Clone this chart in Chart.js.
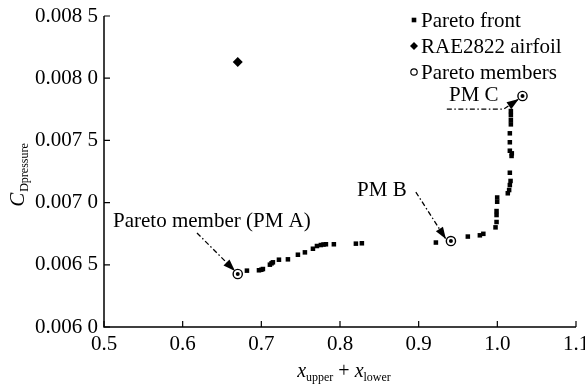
<!DOCTYPE html>
<html>
<head>
<meta charset="utf-8">
<script src="https://cdn.jsdelivr.net/npm/chart.js@4/dist/chart.umd.min.js"></script>
<style>
  html, body { margin: 0; padding: 0; background: #fff; }
  canvas { display: block; }
</style>
</head>
<body>
<canvas id="c" width="585" height="391"></canvas>
<script>
// Pareto front of the optimisation (sum of crest positions vs pressure drag)
const frontX = [
  0.6817, 0.6970, 0.7000, 0.7020, 0.7109, 0.7130, 0.7147, 0.7224, 0.7338, 0.7465,
  0.7554, 0.7656, 0.7707, 0.7757, 0.7790, 0.7821, 0.7922, 0.8202, 0.8278,
  0.9219, 0.9625, 0.9778, 0.9822, 0.9977, 0.9990, 0.9990, 0.9990, 0.9998, 0.9998,
  1.0133, 1.0150, 1.0159, 1.0168, 1.0159, 1.0181, 1.0184, 1.0159, 1.0159, 1.0159,
  1.0172, 1.0172, 1.0172, 1.0172
];
const frontY = [
  0.006453, 0.006456, 0.006460, 0.006466, 0.006501, 0.006512, 0.006520, 0.006541, 0.006544, 0.006581,
  0.006600, 0.006629, 0.006651, 0.006659, 0.006663, 0.006665, 0.006665, 0.006670, 0.006673,
  0.006679, 0.006727, 0.006737, 0.006749, 0.006801, 0.006844, 0.006900, 0.006932, 0.007007, 0.007041,
  0.007075, 0.007101, 0.007141, 0.007174, 0.007240, 0.007375, 0.007396, 0.007417, 0.007485, 0.007557,
  0.007629, 0.007664, 0.007704, 0.007736
];

// Baseline airfoil
const airfoilX = [0.670];
const airfoilY = [0.00813];

// Selected Pareto members A, B, C
const memberX = [0.670, 0.941, 1.032];
const memberY = [0.006426, 0.006691, 0.007857];
const memberNames = ['Pareto member (PM A)', 'PM B', 'PM C'];

// Axis ticks
const xTickValues = [0.5, 0.6, 0.7, 0.8, 0.9, 1.0, 1.1];
const yTickValues = [0.0060, 0.0065, 0.0070, 0.0075, 0.0080, 0.0085];

const seriesNames = ['Pareto front', 'RAE2822 airfoil', 'Pareto members'];

const toPoints = (xs, ys) => xs.map((v, i) => ({ x: v, y: ys[i] }));

// Callout layout (in axis units): label anchor, leader polyline ending in an arrowhead
const callouts = [
  { text: memberNames[0], at: [0.5115, 0.006852], align: 'left',
    path: [[0.6182, 0.006756], [0.6665, 0.006450]] },
  { text: memberNames[1], at: [0.8532, 0.007101], align: 'center',
    path: [[0.8964, 0.007085], [0.9346, 0.006707]] },
  { text: memberNames[2], at: [0.9701, 0.007865], align: 'center',
    path: [[0.9358, 0.007752], [1.0083, 0.007752], [1.0273, 0.007833]] }
];

const SERIF = '"Liberation Serif", "Times New Roman", serif';
const FS = 21;

function drawMarker(ctx, kind, x, y) {
  ctx.save();
  ctx.fillStyle = '#000';
  ctx.strokeStyle = '#000';
  if (kind === 0) {
    ctx.fillRect(x - 2.3, y - 2.3, 4.6, 4.6);
  } else if (kind === 1) {
    ctx.beginPath();
    ctx.moveTo(x - 4, y); ctx.lineTo(x, y - 4); ctx.lineTo(x + 4, y); ctx.lineTo(x, y + 4);
    ctx.closePath(); ctx.fill();
  } else {
    ctx.lineWidth = 1.2;
    ctx.beginPath(); ctx.arc(x, y, 3.2, 0, Math.PI * 2); ctx.stroke();
  }
  ctx.restore();
}

const overlay = {
  id: 'overlay',
  afterDraw(chart) {
    const { ctx, chartArea: a, scales: { x, y } } = chart;
    ctx.save();
    ctx.strokeStyle = '#000';
    ctx.fillStyle = '#000';

    // axes lines
    ctx.lineWidth = 1.5;
    ctx.beginPath();
    ctx.moveTo(a.left, a.top);
    ctx.lineTo(a.left, a.bottom);
    ctx.lineTo(a.right, a.bottom);
    ctx.stroke();

    // inward tick marks
    ctx.lineWidth = 1.2;
    ctx.beginPath();
    x.ticks.forEach(t => {
      const px = x.getPixelForValue(t.value);
      ctx.moveTo(px, a.bottom); ctx.lineTo(px, a.bottom - 6);
    });
    y.ticks.forEach(t => {
      const py = y.getPixelForValue(t.value);
      ctx.moveTo(a.left, py); ctx.lineTo(a.left + 6, py);
    });
    ctx.stroke();

    // y axis title: C_Dpressure
    ctx.save();
    ctx.translate(17, (a.top + a.bottom) / 2 + 4);
    ctx.rotate(-Math.PI / 2);
    ctx.textBaseline = 'alphabetic';
    ctx.font = 'italic 21px ' + SERIF;
    const wC = ctx.measureText('C').width;
    ctx.font = '12px ' + SERIF;
    const wSub = ctx.measureText('Dpressure').width;
    let sx = -(wC + wSub) / 2;
    ctx.font = 'italic 21px ' + SERIF;
    ctx.fillText('C', sx, 7);
    ctx.font = '12px ' + SERIF;
    ctx.fillText('Dpressure', sx + wC + 1, 11);
    ctx.restore();

    // x axis title: x_upper + x_lower
    ctx.save();
    ctx.textBaseline = 'alphabetic';
    const parts = [
      ['x', 'italic 20px ', 0], ['upper', '12px ', 4], [' + ', '20px ', 0],
      ['x', 'italic 20px ', 0], ['lower', '12px ', 4]
    ];
    let total = 0;
    parts.forEach(p => { ctx.font = p[1] + SERIF; p.push(ctx.measureText(p[0]).width); total += p[3]; });
    let cx = (a.left + a.right) / 2 + 4 - total / 2;
    parts.forEach(p => {
      ctx.font = p[1] + SERIF;
      ctx.fillText(p[0], cx, 377 + p[2]);
      cx += p[3];
    });
    ctx.restore();

    // callouts
    callouts.forEach(c => {
      ctx.font = FS + 'px ' + SERIF;
      ctx.textAlign = c.align;
      ctx.textBaseline = 'middle';
      ctx.fillText(c.text, x.getPixelForValue(c.at[0]), y.getPixelForValue(c.at[1]));
      const pts = c.path.map(p => [x.getPixelForValue(p[0]), y.getPixelForValue(p[1])]);
      ctx.lineWidth = 1.3;
      ctx.setLineDash([5, 2.5, 1.5, 2.5]);
      ctx.beginPath();
      ctx.moveTo(pts[0][0], pts[0][1]);
      for (let i = 1; i < pts.length; i++) ctx.lineTo(pts[i][0], pts[i][1]);
      ctx.stroke();
      ctx.setLineDash([]);
      const [x1, y1] = pts[pts.length - 2];
      const [x2, y2] = pts[pts.length - 1];
      const ang = Math.atan2(y2 - y1, x2 - x1);
      const L = 12, W = 4.2;
      ctx.beginPath();
      ctx.moveTo(x2, y2);
      ctx.lineTo(x2 - L * Math.cos(ang) + W * Math.sin(ang), y2 - L * Math.sin(ang) - W * Math.cos(ang));
      ctx.lineTo(x2 - L * Math.cos(ang) - W * Math.sin(ang), y2 - L * Math.sin(ang) + W * Math.cos(ang));
      ctx.closePath();
      ctx.fill();
    });

    // legend
    ctx.font = FS + 'px ' + SERIF;
    ctx.textAlign = 'left';
    ctx.textBaseline = 'middle';
    const rows = [20, 46, 72];
    seriesNames.forEach((name, i) => {
      drawMarker(ctx, i, 414, rows[i]);
      ctx.fillText(name, 421, rows[i] + 1);
    });

    ctx.restore();
  }
};

new Chart(document.getElementById('c'), {
  type: 'scatter',
  data: {
    datasets: [
      { label: seriesNames[0], data: toPoints(frontX, frontY), order: 2,
        pointStyle: 'rect', pointRadius: 3.2, backgroundColor: '#000', borderWidth: 0 },
      { label: seriesNames[1], data: toPoints(airfoilX, airfoilY), order: 2,
        pointStyle: 'rectRot', pointRadius: 5, backgroundColor: '#000', borderWidth: 0 },
      { label: seriesNames[2], data: toPoints(memberX, memberY), order: 1,
        pointStyle: 'circle', pointRadius: 4.6, backgroundColor: 'rgba(255,255,255,0)', borderColor: '#000', borderWidth: 1.4 },
      { label: 'centre', data: toPoints(memberX, memberY), order: 0,
        pointStyle: 'circle', pointRadius: 2, backgroundColor: '#000', borderWidth: 0 }
    ]
  },
  options: {
    responsive: false,
    devicePixelRatio: 1,
    animation: false,
    layout: { padding: { top: 16, right: 9, left: 0, bottom: 0 } },
    plugins: { legend: { display: false }, tooltip: { enabled: false } },
    scales: {
      x: {
        type: 'linear', min: 0.5, max: 1.1,
        afterBuildTicks: s => { s.ticks = xTickValues.map(v => ({ value: v })); },
        ticks: { color: '#000', padding: 5, font: { family: SERIF, size: FS },
                 maxRotation: 0, callback: v => Number(v).toFixed(1) },
        grid: { display: false, drawTicks: false },
        border: { display: false },
        afterFit: s => { s.height = 64; s.paddingLeft = 0; s.paddingRight = 0; }
      },
      y: {
        type: 'linear', min: 0.006, max: 0.0085,
        afterBuildTicks: s => { s.ticks = yTickValues.map(v => ({ value: v })); },
        ticks: { color: '#000', padding: 6, font: { family: SERIF, size: FS },
                 callback: v => { const t = Number(v).toFixed(4); return t.slice(0, -1) + ' ' + t.slice(-1); } },
        grid: { display: false, drawTicks: false },
        border: { display: false },
        afterFit: s => { s.width = 104; s.paddingTop = 0; s.paddingBottom = 0; }
      }
    }
  },
  plugins: [overlay]
});
</script>
</body>
</html>
